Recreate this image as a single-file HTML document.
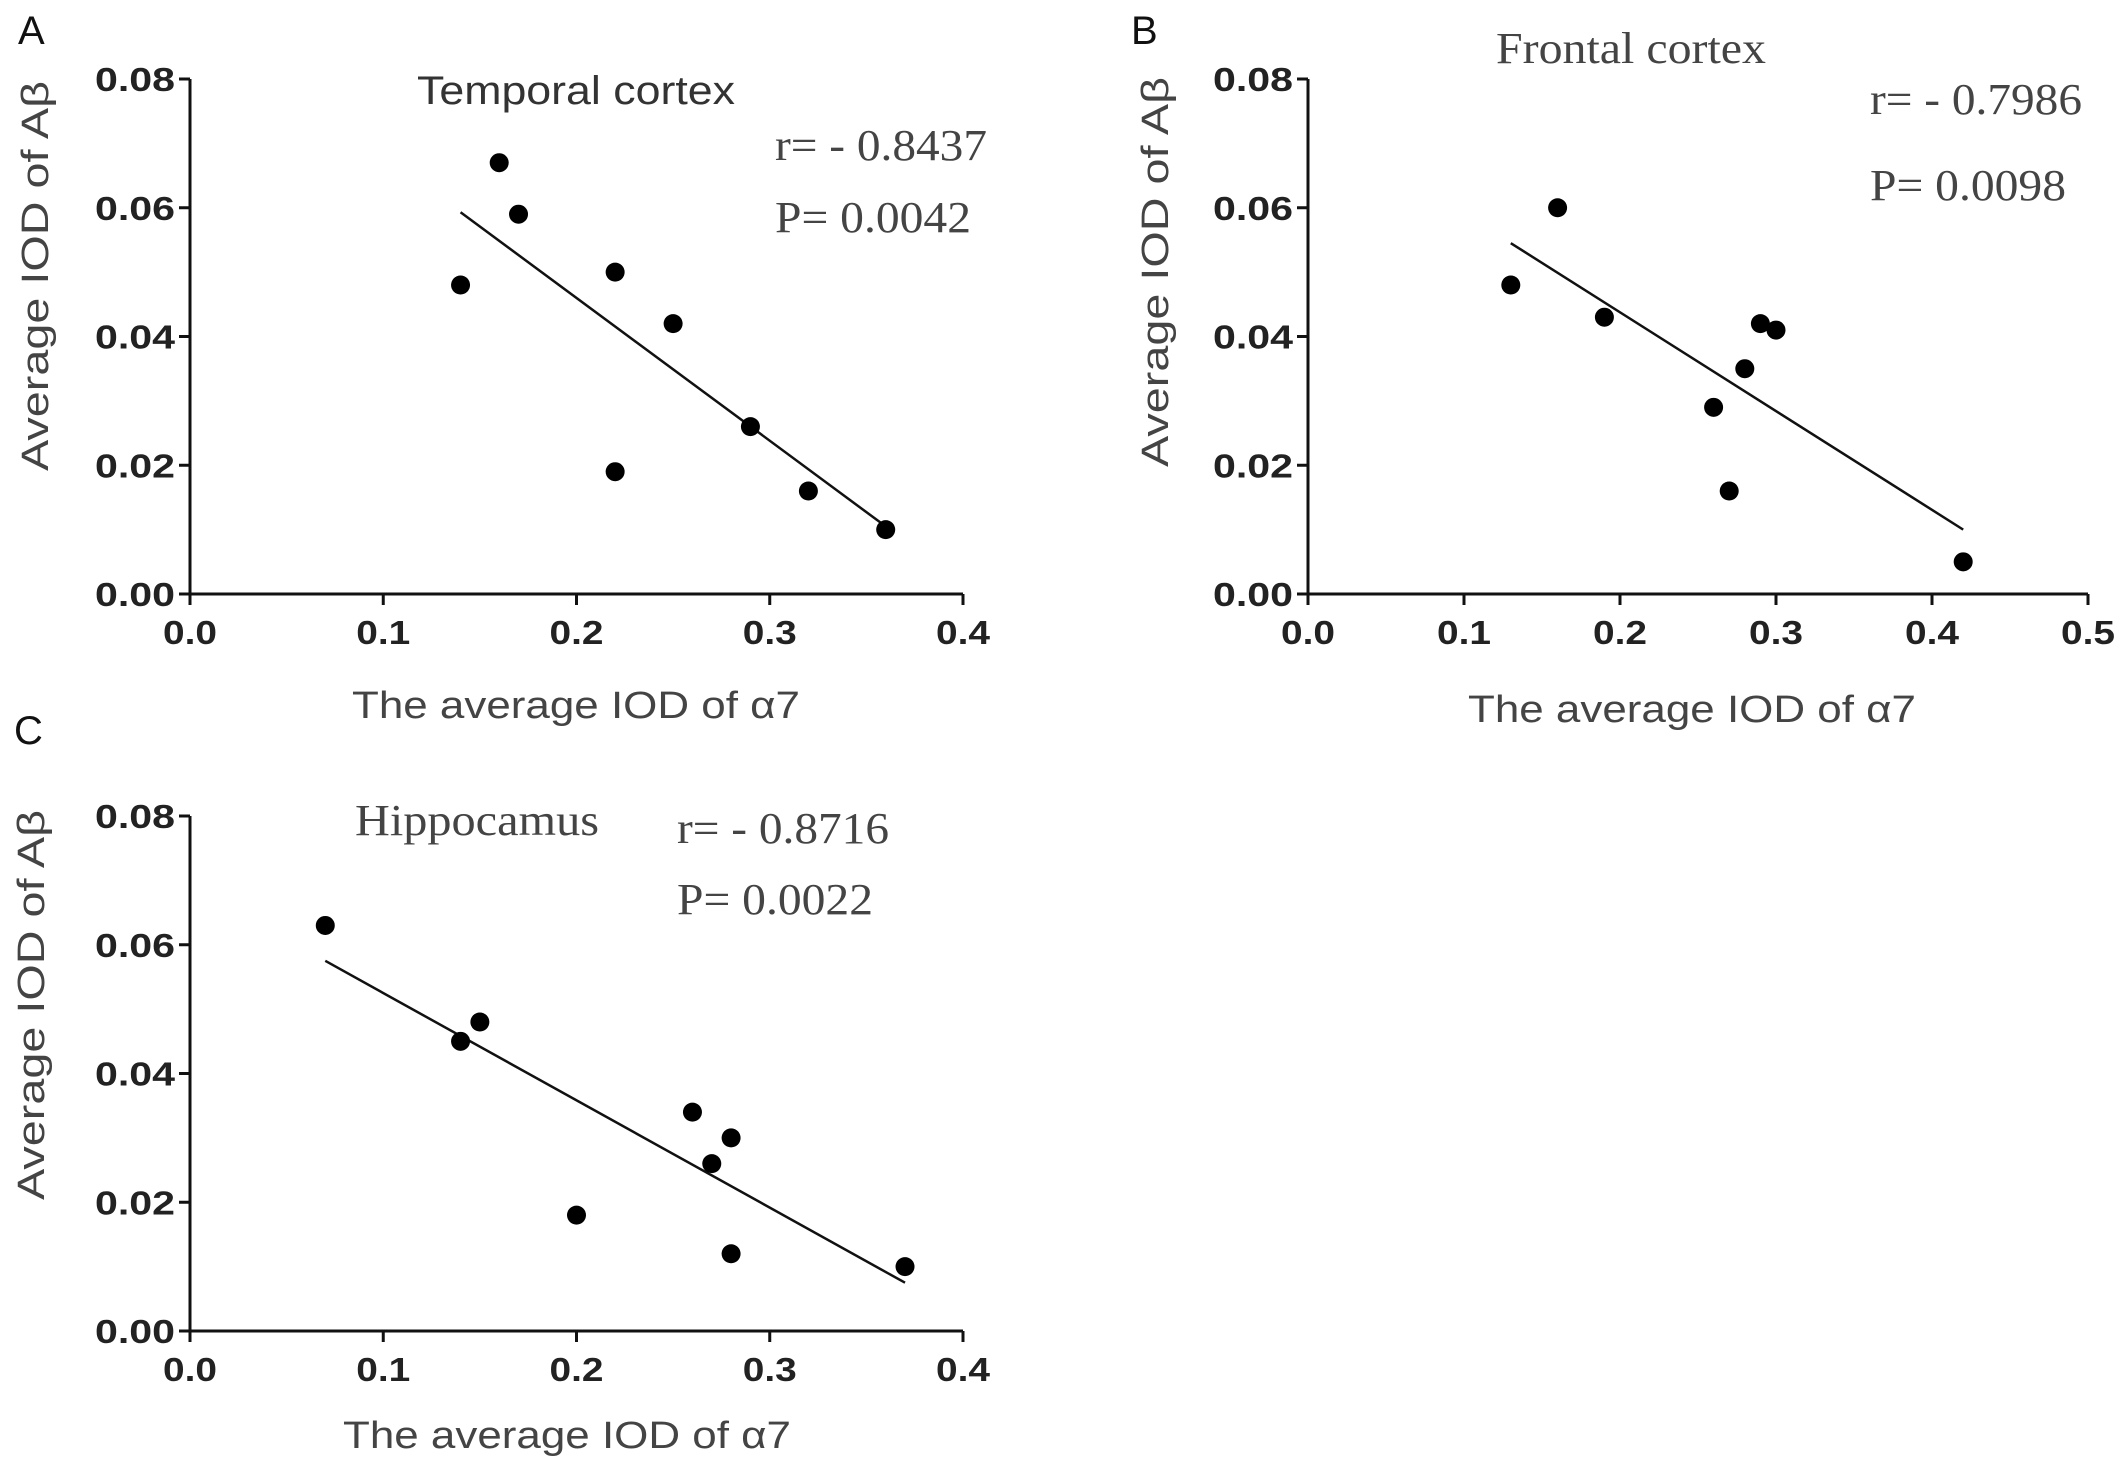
<!DOCTYPE html>
<html><head><meta charset="utf-8"><style>
body{margin:0;background:#fff}
svg{display:block}
.tick{font-family:"Liberation Sans",sans-serif;font-weight:bold;font-size:33px;fill:#222}
.ytitle,.xtitle{font-family:"Liberation Sans",sans-serif;font-size:38px;fill:#444}
.serif{font-family:"Liberation Serif",serif;font-size:44px;fill:#444}
.sans{font-family:"Liberation Sans",sans-serif;font-size:40px;fill:#333}
.plabel{font-family:"Liberation Sans",sans-serif;font-size:40px;fill:#111}
</style></head><body>
<svg id="fig" width="2126" height="1470" viewBox="0 0 2126 1470" xmlns="http://www.w3.org/2000/svg"></svg>
<script>
const ticksY = [0, 0.02, 0.04, 0.06, 0.08];
const tickLabelsY = ["0.00","0.02","0.04","0.06","0.08"];
const ticksXA = [0,0.1,0.2,0.3,0.4];
const ticksXB = [0,0.1,0.2,0.3,0.4,0.5];
const tickLabelsXA = ["0.0","0.1","0.2","0.3","0.4"];
const tickLabelsXB = ["0.0","0.1","0.2","0.3","0.4","0.5"];
const xA = [0.14,0.16,0.17,0.22,0.22,0.25,0.29,0.32,0.36];
const yA = [0.048,0.067,0.059,0.050,0.019,0.042,0.026,0.016,0.010];
const fitA = [[0.14,0.0593],[0.36,0.0105]];
const xB = [0.13,0.16,0.19,0.26,0.27,0.28,0.29,0.30,0.42];
const yB = [0.048,0.060,0.043,0.029,0.016,0.035,0.042,0.041,0.005];
const fitB = [[0.13,0.0545],[0.42,0.010]];
const xC = [0.07,0.14,0.15,0.20,0.26,0.27,0.28,0.28,0.37];
const yC = [0.063,0.045,0.048,0.018,0.034,0.026,0.030,0.012,0.010];
const fitC = [[0.07,0.0575],[0.37,0.0075]];

const NS="http://www.w3.org/2000/svg";
const svg=document.getElementById('fig');
function mk(tag,attrs,parent,text){const e=document.createElementNS(NS,tag);for(const k in attrs)e.setAttribute(k,attrs[k]);if(text!==undefined)e.textContent=text;(parent||svg).appendChild(e);return e;}

function panel(o){
  const g=mk('g',{});
  
  
  const sx=v=>o.x0+(v-0)/(o.xmax)*(o.x1-o.x0);
  const sy=v=>o.y0-(v/0.08)*(o.y0-o.y1);
  const ax=mk('line',{x1:o.x0,y1:o.y1,x2:o.x0,y2:o.y0+1.5,stroke:'#111','stroke-width':3},g);
  
  
  const bx=mk('line',{x1:o.x0-1.5,y1:o.y0,x2:o.x1,y2:o.y0,stroke:'#111','stroke-width':3},g);
  
  
  ticksY.forEach((t,i)=>{
    mk('line',{x1:o.x0-11,y1:sy(t),x2:o.x0,y2:sy(t),stroke:'#111','stroke-width':3},g);
    const tl=mk('text',{x:o.x0-15,y:sy(t)+12,'text-anchor':'end',class:'tick',textLength:80,lengthAdjust:'spacingAndGlyphs'},g,tickLabelsY[i]);
    
    
  });
  o.ticksX.forEach((t,i)=>{
    mk('line',{x1:sx(t),y1:o.y0,x2:sx(t),y2:o.y0+11,stroke:'#111','stroke-width':3},g);
    const tl=mk('text',{x:sx(t),y:o.y0+50,'text-anchor':'middle',class:'tick',textLength:54,lengthAdjust:'spacingAndGlyphs'},g,o.tickLabelsX[i]);
    
    
  });
  const fl=mk('line',{x1:sx(o.fit[0][0]),y1:sy(o.fit[0][1]),x2:sx(o.fit[1][0]),y2:sy(o.fit[1][1]),stroke:'#111','stroke-width':2.5},g);
  
  
  o.xs.forEach((x,i)=>{
    const c=mk('circle',{cx:sx(x),cy:sy(o.ys[i]),r:9.5,fill:'#000'},g);
    
    
  });
  const yt=mk('text',{x:0,y:0,'text-anchor':'middle',class:'ytitle',transform:`translate(${o.ytx},${o.yty}) rotate(-90)`,textLength:390,lengthAdjust:'spacingAndGlyphs'},g,'Average IOD of Aβ');
  
  
  const xt=mk('text',{x:o.xtx,y:o.xty,'text-anchor':'middle',class:'xtitle',textLength:448,lengthAdjust:'spacingAndGlyphs'},g,'The average IOD of α7');
  
  
  const tt=mk('text',{x:o.tx,y:o.ty,'text-anchor':'middle',class:o.tclass,textLength:o.tlen,lengthAdjust:'spacingAndGlyphs'},g,o.title);
  
  
  const rt=mk('text',{x:o.rx,y:o.ry,class:'serif',textLength:212,lengthAdjust:'spacingAndGlyphs'},g,o.r);
  
  
  const pt=mk('text',{x:o.rx,y:o.py,class:'serif',textLength:196,lengthAdjust:'spacingAndGlyphs'},g,o.p);
  
  
  const pl=mk('text',{x:o.lx,y:o.ly,class:'plabel'},g,o.label);
  
  
}
panel({name:'panel-a',x0:190,x1:963,xmax:0.4,y0:594,y1:79,ticksX:ticksXA,tickLabelsX:tickLabelsXA,xs:xA,ys:yA,fit:fitA,
  ytx:48,yty:276,xtx:576,xty:718,title:'Temporal cortex',tclass:'sans',tx:576,ty:104,tlen:318,
  r:'r= - 0.8437',p:'P= 0.0042',rx:775,ry:160,py:232,label:'A',lx:18,ly:44});
panel({name:'panel-b',x0:1308,x1:2088,xmax:0.5,y0:594,y1:79,ticksX:ticksXB,tickLabelsX:tickLabelsXB,xs:xB,ys:yB,fit:fitB,
  ytx:1168,yty:272,xtx:1692,xty:722,title:'Frontal cortex',tclass:'serif',tx:1631,ty:63,tlen:270,
  r:'r= - 0.7986',p:'P= 0.0098',rx:1870,ry:114,py:200,label:'B',lx:1131,ly:44});
panel({name:'panel-c',x0:190,x1:963,xmax:0.4,y0:1331,y1:816,ticksX:ticksXA,tickLabelsX:tickLabelsXA,xs:xC,ys:yC,fit:fitC,
  ytx:44,yty:1005,xtx:567,xty:1448,title:'Hippocamus',tclass:'serif',tx:477,ty:835,tlen:244,
  r:'r= - 0.8716',p:'P= 0.0022',rx:677,ry:843,py:914,label:'C',lx:14,ly:744});
</script>
</body></html>
